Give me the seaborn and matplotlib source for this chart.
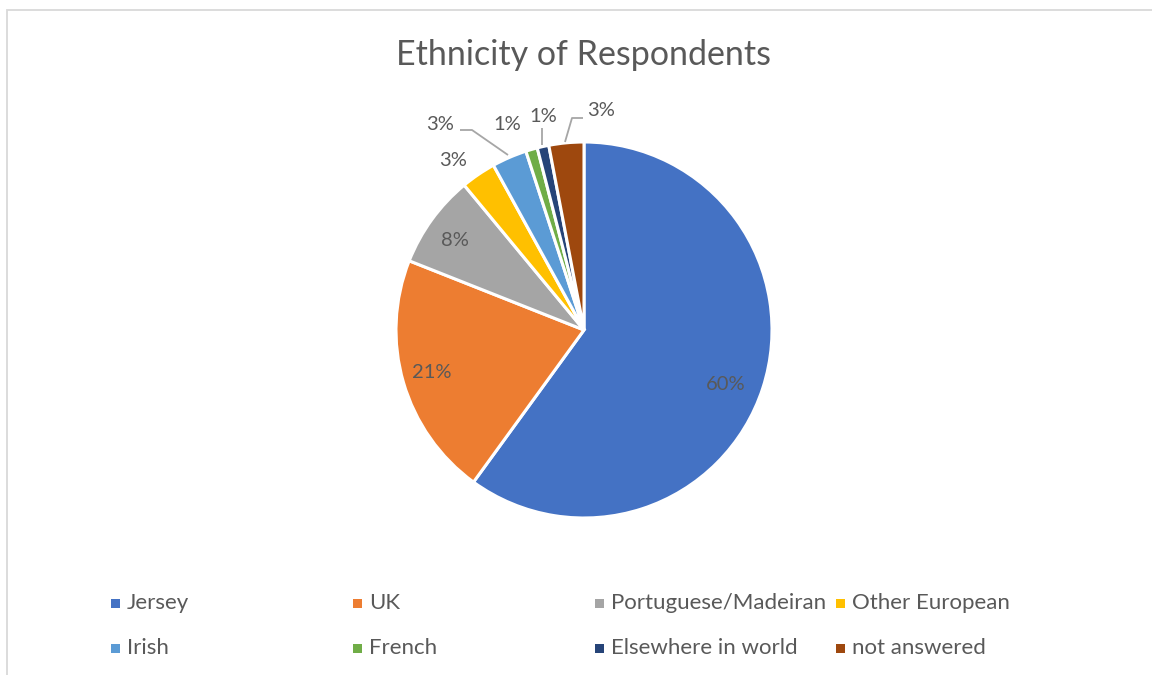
import matplotlib
matplotlib.use("Agg")
import matplotlib.pyplot as plt
from matplotlib.patches import Rectangle
import seaborn as sns

# Survey breakdown
categories = ["Jersey", "UK", "Portuguese/Madeiran", "Other European",
              "Irish", "French", "Elsewhere in world", "not answered"]
shares = [60, 21, 8, 3, 3, 1, 1, 3]
colors = ["#4472C4", "#ED7D31", "#A5A5A5", "#FFC000",
          "#5B9BD5", "#70AD47", "#264478", "#9E480E"]
title = "Ethnicity of Respondents"

sns.set_theme(style="white")
plt.rcParams["font.family"] = ["Lato", "DejaVu Sans"]
palette = sns.color_palette(colors)
TEXT = "#595959"

W, H = 1152, 675
fig = plt.figure(figsize=(W / 100, H / 100), dpi=100)

# chart frame
fig.patches.append(Rectangle((7 / W, -0.1), 1.2, 1 - 10.5 / H + 0.1,
                             transform=fig.transFigure, fill=False,
                             edgecolor="#D9D9D9", linewidth=1.3))

# pie axes: centre (584, 330) px, radius 188 px
cx, cy, R, half = 584, 330, 188, 300
ax = fig.add_axes([(cx - half) / W, 1 - (cy + half) / H, 2 * half / W, 2 * half / H])

ax.pie(shares, colors=palette, startangle=90, counterclock=False, radius=1.0,
       wedgeprops=dict(edgecolor="white", linewidth=2.2, joinstyle="miter"))

L = half / R
ax.set_xlim(-L, L)
ax.set_ylim(-L, L)
ax.set_aspect("equal")
ax.axis("off")


def px(x, y):
    return ((x - cx) / R, (cy - y) / R)


# data labels (pixel anchor points of each label)
label_px = [(726, 385), (432, 373), (455, 240), (453, 160),
            (440, 124), (507, 125), (543, 117), (601, 111)]
for v, (lx, ly) in zip(shares, label_px):
    ax.text(*px(lx, ly), f"{v}%", ha="center", va="center",
            fontsize=14.5, color=TEXT)

# leader lines for the crowded small slices
leaders = [
    [(460, 130), (472, 130), (508, 155)],
    [(542, 128), (542, 145)],
    [(583, 118), (572, 118), (565, 142)],
]
for pts in leaders:
    xs, ys = zip(*[px(*p) for p in pts])
    ax.plot(xs, ys, color="#A6A6A6", linewidth=1.3, solid_capstyle="butt")

fig.text(584 / W, 1 - 55 / H, title, ha="center", va="center",
         fontsize=24.5, color=TEXT)

# legend, 4 columns x 2 rows
col_x = [115, 357, 599, 840]
row_y = [603, 648]
sq = 9
for i, (name, c) in enumerate(zip(categories, palette)):
    x0 = col_x[i % 4]
    y0 = row_y[i // 4]
    fig.patches.append(Rectangle(((x0 - sq / 2) / W, 1 - (y0 + sq / 2) / H),
                                 sq / W, sq / H, transform=fig.transFigure,
                                 facecolor=c, edgecolor="none"))
    fig.text((x0 + 12) / W, 1 - y0 / H, name, ha="left", va="center",
             fontsize=16, color=TEXT)

fig.savefig("out.png", dpi=100, facecolor="white")
